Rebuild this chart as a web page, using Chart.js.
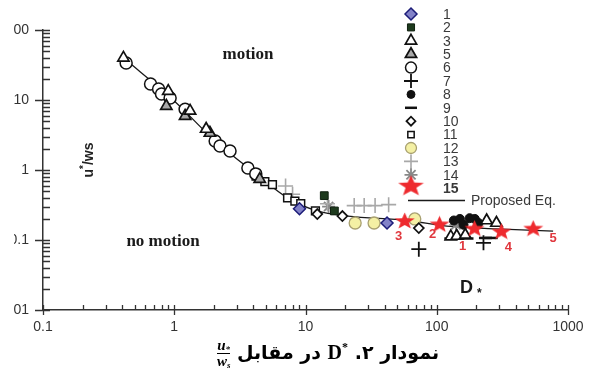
<!DOCTYPE html>
<html><head><meta charset="utf-8">
<script src="https://cdn.jsdelivr.net/npm/chart.js@4/dist/chart.umd.min.js"></script>
<style>
html,body{margin:0;padding:0;background:#fff;}
body{width:594px;height:372px;overflow:hidden;position:relative;}
#wrap{position:absolute;left:14px;top:0;width:580px;height:338px;overflow:hidden;}
#c{position:absolute;left:-26px;top:0;width:620px;height:338px;}
#cap{position:absolute;left:0;top:334px;width:532px;padding-left:62px;text-align:center;direction:rtl;font-family:"DejaVu Sans",sans-serif;font-weight:bold;font-size:19px;line-height:36px;color:#000;}
.frac{display:inline-block;vertical-align:middle;font-family:"Liberation Serif",serif;font-style:italic;font-weight:bold;font-size:15px;line-height:15px;text-align:center;direction:ltr;}
.frac span{display:block;}
.frac .den{border-top:1.5px solid #000;}
.frac sub{font-size:9px;vertical-align:-2px;line-height:0;}
.D{font-family:"Liberation Serif",serif;font-weight:bold;direction:ltr;unicode-bidi:isolate;font-size:20px;}
.D sup{font-size:12px;line-height:0;}
</style></head>
<body>
<div id="wrap"><canvas id="c" width="620" height="338"></canvas></div>
<div id="cap">نمودار ۲. <span class="D">D<sup>*</sup></span> در مقابل <span class="frac"><span>u<sub>*</sub></span><span class="den">w<sub>s</sub></span></span></div>
<script>
// ---------- data ----------
const xTickValues = [0.1, 1, 10, 100, 1000];
const xTickLabels = ['0.1', '1', '10', '100', '1000'];
const yTickValues = [0.01, 0.1, 1, 10, 100];
const yTickLabels = ['0.01', '0.1', '1', '10', '100'];

const seriesNames = ['1','2','3','5','6','7','8','9','10','11','12','13','14','15'];

const s1X = [9.0, 41.8];                 const s1Y = [0.28, 0.175];
const s2X = [13.9, 16.6];                const s2Y = [0.43, 0.26];
const s3X = [0.41, 0.9, 1.32, 1.75, 128, 142, 165, 240, 285];
const s3Y = [40, 13.4, 7.0, 3.85, 0.112, 0.114, 0.118, 0.19, 0.175];
const s5X = [0.87, 1.21, 1.87, 4.48];    const s5Y = [8.2, 5.9, 3.38, 0.74];
const s6X = [0.43, 0.66, 0.76, 0.80, 0.93, 1.21, 2.05, 2.23, 2.66, 3.64, 4.18];
const s6Y = [33.8, 16.9, 14.4, 12.2, 10.7, 7.4, 2.6, 2.2, 1.87, 1.07, 0.88];
const s7X = [73, 227];                   const s7Y = [0.074, 0.091];
const s8X = [135, 150, 160, 178, 195, 208];
const s8Y = [0.19, 0.2, 0.165, 0.205, 0.2, 0.175];
const s9X = [128, 145, 170, 235, 260];   const s9Y = [0.105, 0.105, 0.105, 0.107, 0.107];
const s10X = [12.3, 19.1, 73];           const s10Y = [0.235, 0.22, 0.148];
const s11X = [4.2, 4.9, 5.6, 7.3, 8.3, 9.2, 11.9];
const s11Y = [0.82, 0.68, 0.62, 0.40, 0.36, 0.33, 0.26];
const s12X = [23.9, 33.3, 68];           const s12Y = [0.175, 0.175, 0.2];
const s13X = [7.05, 7.97, 14.7, 23.5, 28, 33.9, 43];
const s13Y = [0.59, 0.45, 0.33, 0.31, 0.31, 0.31, 0.32];
const s14X = [15, 140];                  const s14Y = [0.3, 0.165];
const s15X = [194, 105, 57, 311, 543];   const s15Y = [0.148, 0.17, 0.19, 0.134, 0.148];
const starNumbers = ['1', '2', '3', '4', '5'];

const eqX = [0.41, 1, 2.05, 4.2, 7.3, 12.3, 21, 59, 119, 285, 770];
const eqY = [40, 9.7, 2.6, 0.88, 0.40, 0.26, 0.22, 0.19, 0.158, 0.144, 0.134];
const eqName = 'Proposed Eq.';

// ---------- styles ----------
function makeStar(w, h, fill) {
  const c = document.createElement('canvas');
  c.width = w; c.height = h;
  const g = c.getContext('2d');
  const cx = w / 2, cy = h * 0.55, R = w / 2, r = R * 0.42;
  g.beginPath();
  for (let i = 0; i < 10; i++) {
    const a = -Math.PI / 2 + i * Math.PI / 5;
    const rr = i % 2 ? r : R;
    g.lineTo(cx + rr * Math.cos(a), cy + rr * Math.sin(a) * (h / w) * 1.05);
  }
  g.closePath();
  g.fillStyle = fill; g.fill();
  return c;
}
const starData = makeStar(21, 17, '#ee2a2e');
const starLegend = makeStar(27, 21, '#ee2a2e');

const seriesData = [[s1X,s1Y],[s2X,s2Y],[s3X,s3Y],[s5X,s5Y],[s6X,s6Y],[s7X,s7Y],[s8X,s8Y],
  [s9X,s9Y],[s10X,s10Y],[s11X,s11Y],[s12X,s12Y],[s13X,s13Y],[s14X,s14Y],[s15X,s15Y]];
const seriesStyle = [
  {ps:'rectRot', r:6, lr:6, bg:'#8282c8', bc:'#1c1c78', bw:1.5},
  {ps:'rect', r:5.5, lr:5, bg:'#1d3a1d', bc:'#102010', bw:1},
  {ps:'triangle', r:6.5, lr:6.5, bg:'#ffffff', bc:'#111', bw:1.7},
  {ps:'triangle', r:6.5, lr:6.5, bg:'#a8a8a8', bc:'#111', bw:1.7},
  {ps:'circle', r:6, lr:5.5, bg:'#ffffff', bc:'#111', bw:1.5},
  {ps:'cross', r:7.5, lr:7, bg:'#111', bc:'#111', bw:1.8},
  {ps:'circle', r:4.5, lr:4, bg:'#111', bc:'#111', bw:1},
  {ps:'line', r:6.5, lr:6, bg:'#111', bc:'#111', bw:2.5},
  {ps:'rectRot', r:5, lr:4.5, bg:'#ffffff', bc:'#111', bw:1.7},
  {ps:'rect', r:5.5, lr:4.5, bg:'#ffffff', bc:'#111', bw:1.5},
  {ps:'circle', r:6, lr:5.5, bg:'#f4f0a4', bc:'#a8a070', bw:1.3},
  {ps:'cross', r:7.5, lr:7, bg:'#aaa', bc:'#a8a8a8', bw:1.6},
  {ps:'star', r:6.5, lr:6.5, bg:'#888', bc:'#888', bw:1.8},
  {ps:starData, r:10, lr:10, bg:'#ee2a2e', bc:'#ee2a2e', bw:0, legendImg:starLegend}
];

const pts = (xs, ys) => xs.map((x, i) => ({x: x, y: ys[i]}));

const datasets = seriesData.map((d, i) => {
  const st = seriesStyle[i];
  return {
    label: seriesNames[i],
    data: pts(d[0], d[1]),
    pointStyle: st.ps,
    pointRadius: st.r,
    backgroundColor: st.bg,
    borderColor: st.bc,
    pointBorderWidth: st.bw,
    borderWidth: st.bw,
    showLine: false,
    order: i === 13 ? -1 : 1
  };
});
datasets.push({
  label: eqName,
  data: pts(eqX, eqY),
  showLine: true,
  pointRadius: 0,
  borderColor: '#1a1a1a',
  borderWidth: 1.3,
  cubicInterpolationMode: 'monotone',
  order: 50
});

// canvas x = window x + 12
const OX = 12;

const decor = {
  id: 'decor',
  afterDraw(chart) {
    const ctx = chart.ctx;
    const xs = chart.scales.x, ys = chart.scales.y, a = chart.chartArea;
    ctx.save();
    ctx.strokeStyle = '#333';
    ctx.lineWidth = 1.3;
    ctx.beginPath();
    for (let e = -1; e <= 3; e++) {
      for (let k = 1; k <= 9; k++) {
        const v = k * Math.pow(10, e);
        if (v > 1000.0001) break;
        const px = Math.round(xs.getPixelForValue(v)) + 0.5;
        ctx.moveTo(px, a.bottom - 5);
        ctx.lineTo(px, k === 1 ? a.bottom + 5 : a.bottom);
      }
    }
    for (let e = -2; e <= 2; e++) {
      for (let k = 1; k <= 9; k++) {
        const v = k * Math.pow(10, e);
        if (v > 100.0001) break;
        const py = Math.round(ys.getPixelForValue(v)) + 0.5;
        ctx.moveTo(k === 1 ? a.left - 8 : a.left, py);
        ctx.lineTo(a.left + 7, py);
      }
    }
    ctx.stroke();

    // legend
    const H = Chart.helpers;
    const rowY0 = 14, rowStep = 13.4;
    ctx.textBaseline = 'middle';
    ctx.textAlign = 'left';
    seriesNames.forEach((name, i) => {
      const st = seriesStyle[i];
      const y = rowY0 + i * rowStep;
      const x = 411 + OX;
      ctx.fillStyle = st.bg;
      ctx.strokeStyle = st.bc;
      ctx.lineWidth = st.bw;
      const ps = st.legendImg || st.ps;
      H.drawPoint(ctx, {pointStyle: ps, rotation: 0, radius: st.lr, borderWidth: st.bw}, x, i === 13 ? y - 3 : y);
      ctx.fillStyle = '#3a3a3a';
      ctx.font = (i === 13 ? 'bold ' : '') + '14px "Liberation Sans", Arial';
      ctx.fillText(name, 443 + OX, y + 1);
    });
    ctx.strokeStyle = '#1a1a1a';
    ctx.lineWidth = 1.4;
    ctx.beginPath();
    ctx.moveTo(408 + OX, 200.5); ctx.lineTo(465 + OX, 200.5);
    ctx.stroke();
    ctx.fillStyle = '#3a3a3a';
    ctx.font = '14px "Liberation Sans", Arial';
    ctx.fillText(eqName, 471 + OX, 201);

    // region labels
    ctx.fillStyle = '#1a1a1a';
    ctx.font = 'bold 17px "Liberation Serif", "Times New Roman", serif';
    ctx.textAlign = 'center';
    ctx.fillText('motion', 248 + OX, 55);
    ctx.fillText('no motion', 163 + OX, 242);

    // D*
    ctx.font = 'bold 18px "Liberation Sans", Arial';
    ctx.textAlign = 'left';
    ctx.textBaseline = 'alphabetic';
    ctx.fillText('D', 460 + OX, 293);
    ctx.font = 'bold 12px "Liberation Sans", Arial';
    ctx.fillText('*', 477 + OX, 297);

    // y title rotated
    ctx.save();
    ctx.translate(89 + OX, 160);
    ctx.rotate(-Math.PI / 2);
    ctx.fillStyle = '#222';
    ctx.textBaseline = 'middle';
    const f1 = 'bold 14px "Liberation Sans", Arial', f2 = 'bold 10px "Liberation Sans", Arial';
    ctx.font = f1; const wu = ctx.measureText('u').width, wr = ctx.measureText('/ws').width;
    ctx.font = f2; const ws = ctx.measureText('*').width;
    let tx = -(wu + ws + wr) / 2;
    ctx.font = f1; ctx.fillText('u', tx, 0); tx += wu;
    ctx.font = f2; ctx.fillText('*', tx, -5); tx += ws;
    ctx.font = f1; ctx.fillText('/ws', tx, 0);
    ctx.restore();

    // red star numbers
    const offs = [[-12, 18], [-7, 11], [-6, 16], [7, 16], [20, 10]];
    ctx.fillStyle = '#e0383e';
    ctx.font = 'bold 13px "Liberation Sans", Arial';
    ctx.textAlign = 'center';
    ctx.textBaseline = 'middle';
    starNumbers.forEach((t, i) => {
      const px = xs.getPixelForValue(s15X[i]) + offs[i][0];
      const py = ys.getPixelForValue(s15Y[i]) + offs[i][1];
      ctx.fillText(t, px, py);
    });
    ctx.restore();
  }
};

const tickFont = {family: '"Liberation Sans", Arial', size: 14};
new Chart(document.getElementById('c').getContext('2d'), {
  type: 'scatter',
  data: {datasets: datasets},
  options: {
    responsive: false,
    animation: false,
    devicePixelRatio: 1,
    layout: {padding: {left: 0, right: 40, top: 30, bottom: 0}},
    plugins: {legend: {display: false}, tooltip: {enabled: false}},
    scales: {
      x: {
        type: 'logarithmic', min: 0.1, max: 1000,
        afterBuildTicks: s => { s.ticks = xTickValues.map(v => ({value: v})); },
        afterFit: s => { s.height = 28; },
        ticks: {autoSkip: false, maxRotation: 0, padding: 9, color: '#333', font: tickFont,
                callback: (v, i) => xTickLabels[i]},
        grid: {display: false, drawTicks: false},
        border: {display: true, color: '#333', width: 1.5}
      },
      y: {
        type: 'logarithmic', min: 0.01, max: 100,
        afterBuildTicks: s => { s.ticks = yTickValues.map(v => ({value: v})); },
        afterFit: s => { s.width = 55; },
        ticks: {autoSkip: false, padding: 14, color: '#333', font: tickFont,
                callback: (v, i) => yTickLabels[i]},
        grid: {display: false, drawTicks: false},
        border: {display: true, color: '#333', width: 1.5}
      }
    }
  },
  plugins: [decor]
});
</script>
</body></html>
